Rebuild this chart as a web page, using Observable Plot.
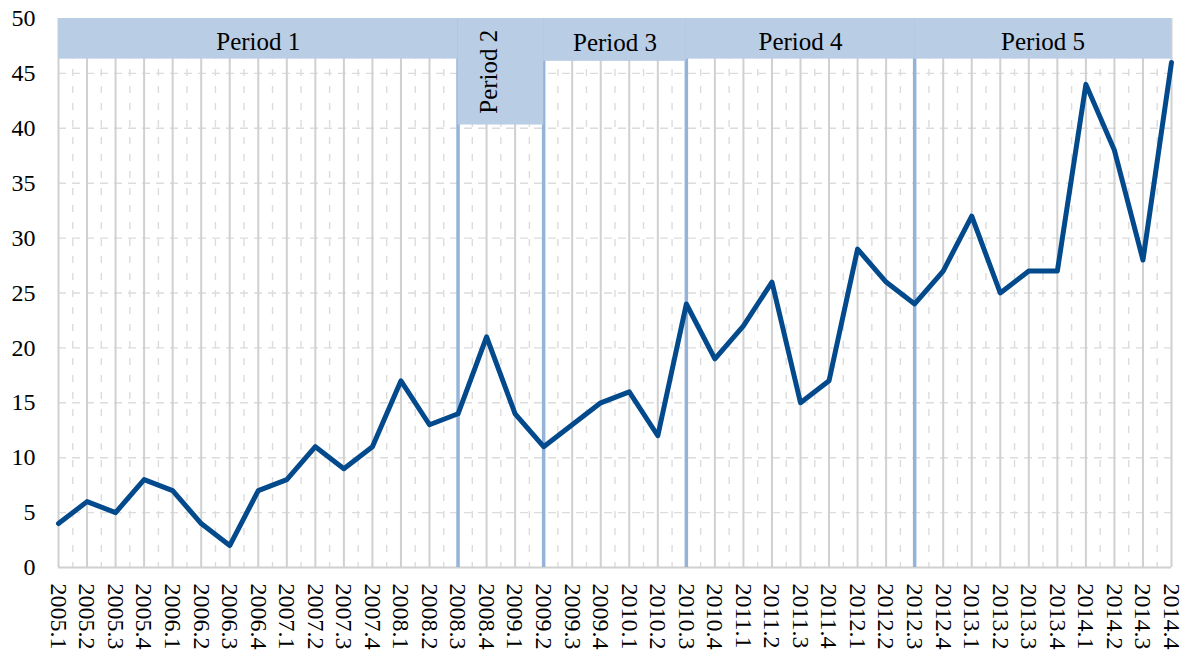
<!DOCTYPE html>
<html><head><meta charset="utf-8">
<script src="https://cdn.jsdelivr.net/npm/d3@7"></script>
<script src="https://cdn.jsdelivr.net/npm/@observablehq/plot@0.6"></script>
<style>body{margin:0;background:#fff}</style>
</head><body><div id="chart"></div>
<script>
const quarters = ["2005.1","2005.2","2005.3","2005.4","2006.1","2006.2","2006.3","2006.4",
  "2007.1","2007.2","2007.3","2007.4","2008.1","2008.2","2008.3","2008.4",
  "2009.1","2009.2","2009.3","2009.4","2010.1","2010.2","2010.3","2010.4",
  "2011.1","2011.2","2011.3","2011.4","2012.1","2012.2","2012.3","2012.4",
  "2013.1","2013.2","2013.3","2013.4","2014.1","2014.2","2014.3","2014.4"];
const values = [4,6,5,8,7,4,2,7, 8,11,9,11,17,13,14,21, 14,11,13,15,16,12,24,19,
  22,26,15,17,29,26,24,27, 32,25,27,27,44,38,28,46];
const periodNames = ["Period 1","Period 2","Period 3","Period 4","Period 5"];
const periodStart = ["2005.1","2008.3","2009.2","2010.3","2012.3"];
const periodEnd   = ["2008.3","2009.2","2010.3","2012.3","2014.4"];
const periodBandBottom = [46.3, 40.3, 46.1, 46.3, 46.3];
const periodBoundaries = ["2008.3","2009.2","2010.3","2012.3"];
const yTicks = [0,5,10,15,20,25,30,35,40,45,50];
const yMax = 50;

const idx = q => quarters.indexOf(q);
const series = quarters.map((q, i) => ({i, q, v: values[i]}));
const periods = periodNames.map((name, k) => ({
  name, x1: idx(periodStart[k]), x2: idx(periodEnd[k]), y1: periodBandBottom[k], y2: yMax
}));
const quarterIdx = quarters.map((q, i) => i);
const midIdx = quarters.slice(1).map((q, i) => i + 0.5);

const chart = Plot.plot({
  width: 1187, height: 657,
  marginLeft: 58, marginRight: 16, marginTop: 18, marginBottom: 90,
  x: {type: "linear", domain: [0, quarters.length - 1]},
  y: {domain: [0, yMax]},
  style: {fontFamily: "'Liberation Serif', serif", fontSize: "24px", color: "#000", background: "#fff"},
  marks: [
    Plot.ruleY(yTicks.filter(v => v > 0 && v < yMax), {stroke: "#dcdcdc", strokeWidth: 1.4, strokeDasharray: "8,6"}),
    Plot.ruleX(midIdx, {stroke: "#dcdcdc", strokeWidth: 1.4, strokeDasharray: "7,10"}),
    Plot.ruleX(quarterIdx, {stroke: "#d0d0d0", strokeWidth: 2}),
    Plot.ruleY([0], {stroke: "#d0d0d0", strokeWidth: 2}),
    Plot.ruleX(periodBoundaries.map(idx), {stroke: "#95b3d7", strokeWidth: 3.5}),
    Plot.rect(periods, {x1: "x1", x2: "x2", y1: "y1", y2: "y2", fill: "#b9cde5"}),
    Plot.text(periods.filter(p => p.name !== "Period 2"), {
      x: p => (p.x1 + p.x2) / 2, y: p => (p.y1 + p.y2) / 2, text: "name",
      fontSize: 25, fill: "#000", dy: 3
    }),
    Plot.text(periods.filter(p => p.name === "Period 2"), {
      x: p => (p.x1 + p.x2) / 2, y: p => (p.y1 + p.y2) / 2, text: "name",
      fontSize: 25, fill: "#000", rotate: -90, dx: -12
    }),
    Plot.line(series, {x: "i", y: "v", stroke: "#034a8c", strokeWidth: 5, strokeLinejoin: "round"}),
    Plot.axisY({ticks: yTicks, tickSize: 0, tickPadding: 23, tickFormat: d => String(d)}),
    Plot.axisX({ticks: quarterIdx, tickFormat: i => quarters[i], tickRotate: 90, tickSize: 0, tickPadding: 16})
  ]
});
document.getElementById("chart").appendChild(chart);
</script>
</body></html>
